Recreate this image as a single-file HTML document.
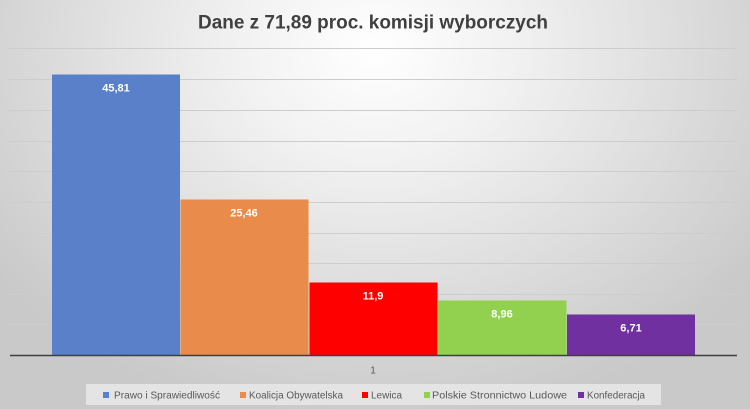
<!DOCTYPE html>
<html><head><meta charset="utf-8"><style>
html,body{margin:0;padding:0;}
body{width:750px;height:409px;overflow:hidden;}
svg{display:block;}
</style></head><body>
<svg width="750" height="409" viewBox="0 0 750 409" xmlns="http://www.w3.org/2000/svg" font-family="'Liberation Sans', sans-serif">
<defs>
<radialGradient id="bg" cx="375" cy="50" r="470" gradientUnits="userSpaceOnUse" gradientTransform="translate(375 50) scale(1 0.8) translate(-375 -50)">
<stop offset="0" stop-color="#ffffff"/>
<stop offset="0.3" stop-color="#f1f1f1"/>
<stop offset="1" stop-color="#c9c9c9"/>
</radialGradient>
</defs>
<rect x="0" y="0" width="750" height="409" fill="url(#bg)"/>
<text x="373" y="28.5" text-anchor="middle" font-size="19.5" font-weight="bold" fill="#404040" textLength="350" lengthAdjust="spacingAndGlyphs">Dane z 71,89 proc. komisji wyborczych</text>
<g stroke="#cdcdcd" stroke-width="1">
<line x1="8" x2="737" y1="48.5" y2="48.5"/>
<line x1="8" x2="737" y1="79.5" y2="79.5"/>
<line x1="8" x2="737" y1="110.5" y2="110.5"/>
<line x1="8" x2="737" y1="141.5" y2="141.5"/>
<line x1="8" x2="737" y1="171.5" y2="171.5"/>
<line x1="8" x2="737" y1="202.5" y2="202.5"/>
<line x1="8" x2="737" y1="233.5" y2="233.5"/>
<line x1="8" x2="737" y1="263.5" y2="263.5"/>
<line x1="8" x2="737" y1="294.5" y2="294.5"/>
<line x1="8" x2="737" y1="324.5" y2="324.5"/>
</g>
<rect x="52" y="74.5" width="128" height="281" fill="#5a80c9"/>
<rect x="180.5" y="199.5" width="128" height="156" fill="#e98b4b"/>
<rect x="309.5" y="282.5" width="128" height="73" fill="#ff0000"/>
<rect x="438" y="300.5" width="128.5" height="55" fill="#92d050"/>
<rect x="567" y="314.5" width="128" height="41" fill="#7030a0"/>
<line x1="10" x2="737" y1="355.5" y2="355.5" stroke="#3f3f3f" stroke-width="1.6"/>
<g font-size="11" font-weight="bold" fill="#ffffff" text-anchor="middle">
<text x="116" y="91.5">45,81</text>
<text x="244" y="216.5">25,46</text>
<text x="373" y="299.5">11,9</text>
<text x="502" y="317.5">8,96</text>
<text x="631" y="331.5">6,71</text>
</g>
<text x="373" y="373.5" font-size="10" fill="#595959" text-anchor="middle">1</text>
<rect x="86" y="384" width="575" height="21" fill="#e4e4e4"/>
<g font-size="10" fill="#595959">
<rect x="103" y="392" width="6" height="6" fill="#5a80c9"/>
<text x="114" y="398.5" textLength="106" lengthAdjust="spacingAndGlyphs">Prawo i Sprawiedliwość</text>
<rect x="240" y="392" width="6" height="6" fill="#e98b4b"/>
<text x="249" y="398.5" textLength="94" lengthAdjust="spacingAndGlyphs">Koalicja Obywatelska</text>
<rect x="362" y="392" width="6" height="6" fill="#ff0000"/>
<text x="371" y="398.5" textLength="31" lengthAdjust="spacingAndGlyphs">Lewica</text>
<rect x="424" y="392" width="6" height="6" fill="#92d050"/>
<text x="432" y="398.5" textLength="135" lengthAdjust="spacingAndGlyphs">Polskie Stronnictwo Ludowe</text>
<rect x="578" y="392" width="6" height="6" fill="#7030a0"/>
<text x="587" y="398.5" textLength="58" lengthAdjust="spacingAndGlyphs">Konfederacja</text>
</g>
</svg>
</body></html>
